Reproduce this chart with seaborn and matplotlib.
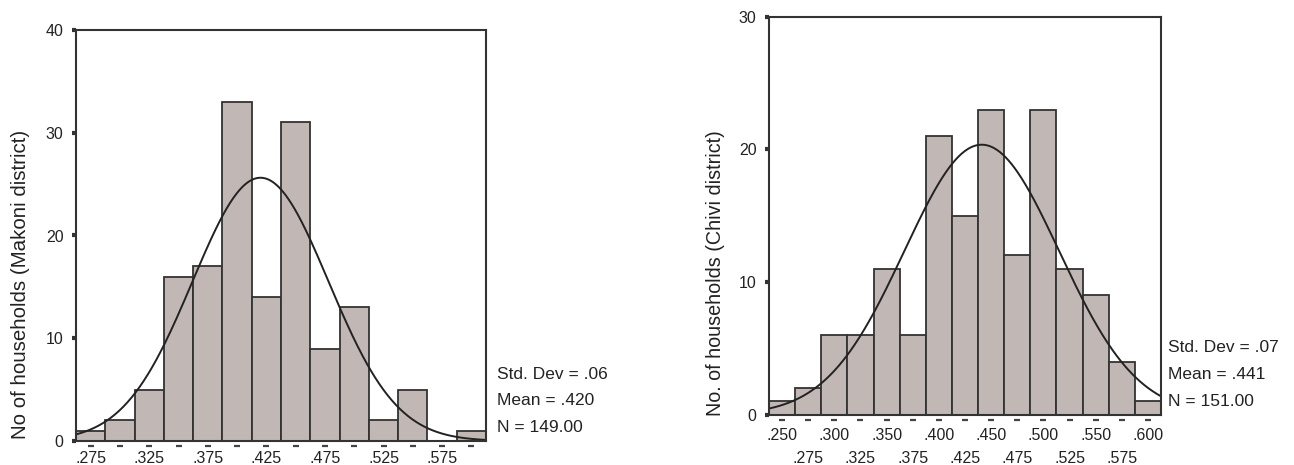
import numpy as np
import pandas as pd
import matplotlib
matplotlib.use("Agg")
import matplotlib.pyplot as plt
import matplotlib.transforms as mtransforms
import seaborn as sns

# ---------------- data ----------------
makoni_centers = [0.275, 0.300, 0.325, 0.350, 0.375, 0.400, 0.425,
                  0.450, 0.475, 0.500, 0.525, 0.550, 0.575, 0.600]
makoni_counts = [1, 2, 5, 16, 17, 33, 14, 31, 9, 13, 2, 5, 0, 1]
makoni_ticks = [0.275, 0.325, 0.375, 0.425, 0.475, 0.525, 0.575]
makoni_ticklabels = [".275", ".325", ".375", ".425", ".475", ".525", ".575"]
makoni_yticks = [0, 10, 20, 30, 40]
makoni_stats = ["Std. Dev = .06", "Mean = .420", "N = 149.00"]
makoni_mean, makoni_sd, makoni_n = 0.420, 0.058, 149
makoni_ylabel = "No of households (Makoni district)"

chivi_centers = [0.250, 0.275, 0.300, 0.325, 0.350, 0.375, 0.400, 0.425,
                 0.450, 0.475, 0.500, 0.525, 0.550, 0.575, 0.600]
chivi_counts = [1, 2, 6, 6, 11, 6, 21, 15, 23, 12, 23, 11, 9, 4, 1]
chivi_ticks_row1 = [0.250, 0.300, 0.350, 0.400, 0.450, 0.500, 0.550, 0.600]
chivi_labels_row1 = [".250", ".300", ".350", ".400", ".450", ".500", ".550", ".600"]
chivi_ticks_row2 = [0.275, 0.325, 0.375, 0.425, 0.475, 0.525, 0.575]
chivi_labels_row2 = [".275", ".325", ".375", ".425", ".475", ".525", ".575"]
chivi_yticks = [0, 10, 20, 30]
chivi_stats = ["Std. Dev = .07", "Mean = .441", "N = 151.00"]
chivi_mean, chivi_sd, chivi_n = 0.441, 0.074, 151
chivi_ylabel = "No. of households (Chivi district)"

bin_width = 0.025

# ---------------- style ----------------
sns.set_style("white")
plt.rcParams["font.family"] = ["Liberation Sans", "DejaVu Sans"]

FILL = "#c1b8b5"
EDGE = "#333333"
TXT = "#222222"

fig = plt.figure(figsize=(12.94, 4.65), dpi=100)
W, H = 1294, 465
ax1 = fig.add_axes([76 / W, (H - 441) / H, 410 / W, 411 / H])
ax2 = fig.add_axes([769 / W, (H - 414.7) / H, 392 / W, 398 / H])


def draw(ax, centers, counts, mean, sd, n, ymax, yticks, stats, ylabel,
         ylabel_size, stat_dx_px, ax_w_px, ax_h_px):
    df = pd.DataFrame({"value": centers, "count": counts})
    c0, c1 = centers[0], centers[-1]
    edges = [float(v) for v in np.linspace(c0 - bin_width / 2, c1 + bin_width / 2, len(centers) + 1)]
    sns.histplot(data=df, x="value", weights="count", bins=edges, ax=ax,
                 color=FILL, edgecolor=EDGE, linewidth=1.3, alpha=1.0)
    xlo, xhi = edges[0], edges[-1]
    xs = np.linspace(xlo, xhi, 400)
    ys = n * bin_width / (sd * np.sqrt(2 * np.pi)) * np.exp(-0.5 * ((xs - mean) / sd) ** 2)
    sns.lineplot(x=xs, y=ys, ax=ax, color="#222222", linewidth=1.4)
    ax.set_xlim(xlo, xhi)
    ax.set_ylim(0, ymax)
    for s in ax.spines.values():
        s.set_visible(True)
        s.set_color(EDGE)
        s.set_linewidth(1.5)
    ax.set_yticks(yticks)
    ax.set_yticklabels([str(v) for v in yticks])
    ax.tick_params(axis="y", direction="out", length=3, width=3, color=EDGE,
                   labelsize=11.5, labelcolor=TXT, pad=6, left=True)
    # small dashes just below the axis at each bar centre
    trans = mtransforms.blended_transform_factory(ax.transData, ax.transAxes)
    ax.plot(centers, [-5 / ax_h_px] * len(centers), ls="none", marker="_",
            ms=5, mew=1.6, color="#444444", transform=trans, clip_on=False)
    ax.set_ylabel(ylabel, fontsize=ylabel_size, color=TXT)
    ax.set_xlabel("")
    # stats text
    offs = [67, 40.5, 13.7]
    for s, o in zip(stats, offs):
        ax.text(1 + stat_dx_px / ax_w_px, o / ax_h_px, s, transform=ax.transAxes,
                va="center", ha="left", fontsize=12.5, color=TXT)


draw(ax1, makoni_centers, makoni_counts, makoni_mean, makoni_sd, makoni_n,
     40, makoni_yticks, makoni_stats, makoni_ylabel, 14.8, 11, 410, 411)
ax1.set_xticks(makoni_ticks)
ax1.set_xticklabels(makoni_ticklabels)
ax1.tick_params(axis="x", length=0, pad=7, labelsize=11.5, labelcolor=TXT)
ax1.yaxis.set_label_coords(-46 / 410, 0.38)

draw(ax2, chivi_centers, chivi_counts, chivi_mean, chivi_sd, chivi_n,
     30, chivi_yticks, chivi_stats, chivi_ylabel, 14.2, 7, 392, 398)
ax2.set_xticks(chivi_ticks_row1)
ax2.set_xticklabels(chivi_labels_row1)
ax2.set_xticks(chivi_ticks_row2, minor=True)
ax2.set_xticklabels(chivi_labels_row2, minor=True)
ax2.tick_params(axis="x", which="major", length=0, pad=9.5, labelsize=11.5, labelcolor=TXT)
ax2.tick_params(axis="x", which="minor", length=0, pad=26, labelsize=11.5, labelcolor=TXT)
ax2.yaxis.set_label_coords(-44 / 392, 0.356)

fig.savefig("out.png", dpi=100)
